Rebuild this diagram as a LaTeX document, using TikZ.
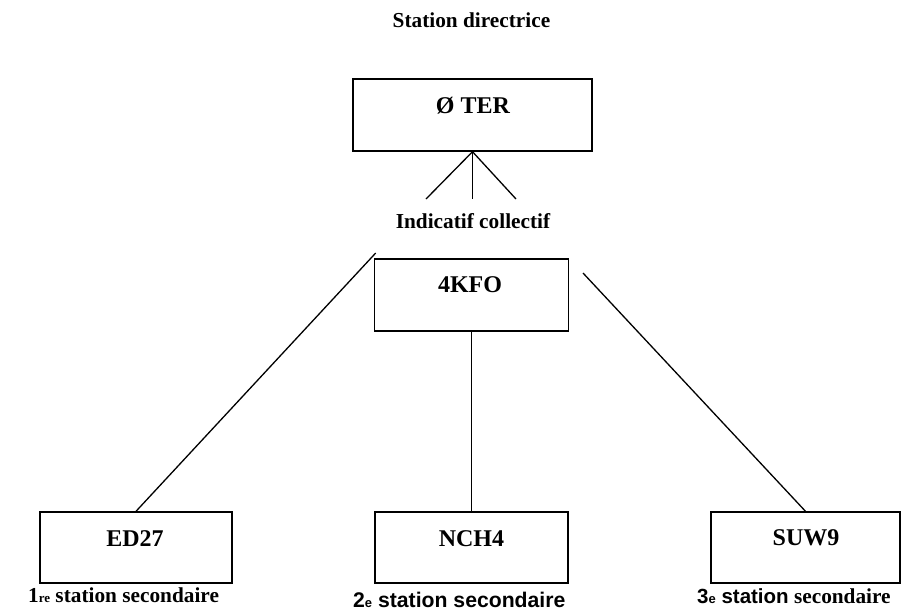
\documentclass[tikz,border=0pt]{standalone}
\usepackage{fontspec}
\setmainfont{Liberation Serif}
\newfontfamily\arialf{Liberation Sans}
\begin{document}
\begin{tikzpicture}[x=1pt,y=-1pt,
  box/.style={draw,line width=1.4pt,rectangle,inner sep=0pt},
  boxtext/.style={anchor=base,inner sep=0pt,font=\fontsize{24}{26}\selectfont\bfseries},
  lbl/.style={anchor=base,inner sep=0pt,font=\fontsize{21.3}{24}\selectfont\bfseries},
  conn/.style={line width=1.3pt}]
\useasboundingbox (0,0) rectangle (903,614);
\newcommand{\smallsup}[1]{{\fontsize{13}{13}\selectfont #1}}
% title
\node[lbl] (title) at (471.5,27) {Station directrice};
% top box
\node[box,minimum width=239,minimum height=72] (top) at (472.5,115) {};
\node[boxtext] (toptext) at (473,113) {Ø TER};
\coordinate (t1) at (426,199);
\coordinate (t2) at (472.5,199);
\coordinate (t3) at (516,199);
\draw[conn] (t1) -- (top.south) -- (t3);
\draw[conn] (top.south) -- (t2);
\node[lbl] (indic) at (473,228) {Indicatif collectif};
% middle box
\node[box,minimum width=194,minimum height=72] (kfo) at (471.5,295) {};
\node[boxtext] (kfotext) at (470,292) {4KFO};
% bottom boxes
\node[box,minimum width=192,minimum height=71] (ed) at (136,547.5) {};
\node[boxtext] (edtext) at (135,546) {ED27};
\node[box,minimum width=193,minimum height=71] (nch) at (471.5,547.5) {};
\node[boxtext] (nchtext) at (471.5,546) {NCH4};
\node[box,minimum width=189,minimum height=71] (suw) at (805.5,547.5) {};
\node[boxtext] (suwtext) at (806,545) {SUW9};
% connectors
\coordinate (l1) at (375.7,253);
\coordinate (r1) at (583,273);
\draw[conn] (l1) -- (ed.north);
\draw[conn] (r1) -- (suw.north);
\draw[conn] (kfo.south) -- (nch.north);
% labels
\node[lbl,anchor=base west] (lab1) at (28,602) {1\smallsup{re} station secondaire};
\node[lbl,anchor=base west,font=\fontsize{21.2}{24}\selectfont\bfseries\arialf] (lab2) at (353,607) {2\smallsup{e} station secondaire};
\node[lbl,anchor=base west] (lab3) at (697,603) {{\arialf\fontsize{20.5}{24}\selectfont 3\smallsup{e} station} secondaire};
\end{tikzpicture}
\end{document}
